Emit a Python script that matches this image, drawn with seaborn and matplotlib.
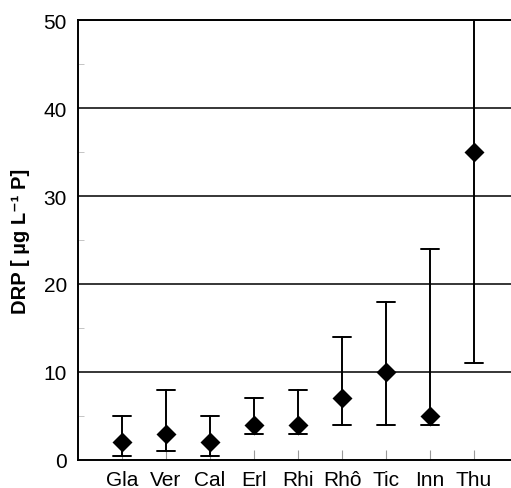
import pandas as pd
import matplotlib
matplotlib.use("Agg")
import matplotlib.pyplot as plt
import seaborn as sns
from matplotlib.ticker import MultipleLocator

# river sites and DRP statistics (µg/L P)
sites = ["Gla", "Ver", "Cal", "Erl", "Rhi", "Rhô", "Tic", "Inn", "Thu"]
drp_mid = [2, 3, 2, 4, 4, 7, 10, 5, 35]
drp_low = [0.5, 1, 0.5, 3, 3, 4, 4, 4, 11]
drp_high = [5, 8, 5, 7, 8, 14, 18, 24, 55]

rows = []
for s, lo, m, hi in zip(sites, drp_low, drp_mid, drp_high):
    for v in (lo, m, hi):
        rows.append({"site": s, "drp": v})
df = pd.DataFrame(rows)

sns.set_style("white")
plt.rcParams["font.family"] = ["Liberation Sans", "DejaVu Sans"]
plt.rcParams["text.color"] = "black"
plt.rcParams["xtick.labelcolor"] = "black"
plt.rcParams["ytick.labelcolor"] = "black"
plt.rcParams["axes.labelcolor"] = "black"

fig = plt.figure(figsize=(5.11, 4.89), dpi=100)
ax = fig.add_axes([78 / 511, 28 / 489, 440 / 511, 440 / 489])

sns.pointplot(data=df, x="site", y="drp", order=sites,
              estimator="median", errorbar=lambda x: (x.min(), x.max()),
              color="black", markers="D", markersize=8.5, linestyle="none",
              capsize=0.4, err_kws={"linewidth": 1.4}, ax=ax)

ax.set_xlim(-1, 9)
ax.set_ylim(0, 50)
ax.yaxis.set_major_locator(MultipleLocator(10))
ax.yaxis.set_minor_locator(MultipleLocator(5))
for y in range(10, 51, 10):
    ax.axhline(y, color="black", lw=1.1, zorder=0)

for side in ["left", "bottom", "top"]:
    ax.spines[side].set_visible(True)
    ax.spines[side].set_color("black")
    ax.spines[side].set_linewidth(1.4)
ax.spines["right"].set_visible(False)

ax.tick_params(axis="x", direction="in", length=7, width=0.8, color="#999999",
               pad=7, labelsize=15, bottom=True)
ax.tick_params(axis="y", which="major", length=0, pad=8, labelsize=15)
ax.tick_params(axis="y", which="minor", direction="in", length=4, width=0.6,
               color="#bbbbbb", left=True)

ax.set_xlabel("")
ax.set_ylabel("DRP [ µg L⁻¹ P]", fontsize=14.5, fontweight="bold", labelpad=10)

fig.savefig("out.png", dpi=100)
